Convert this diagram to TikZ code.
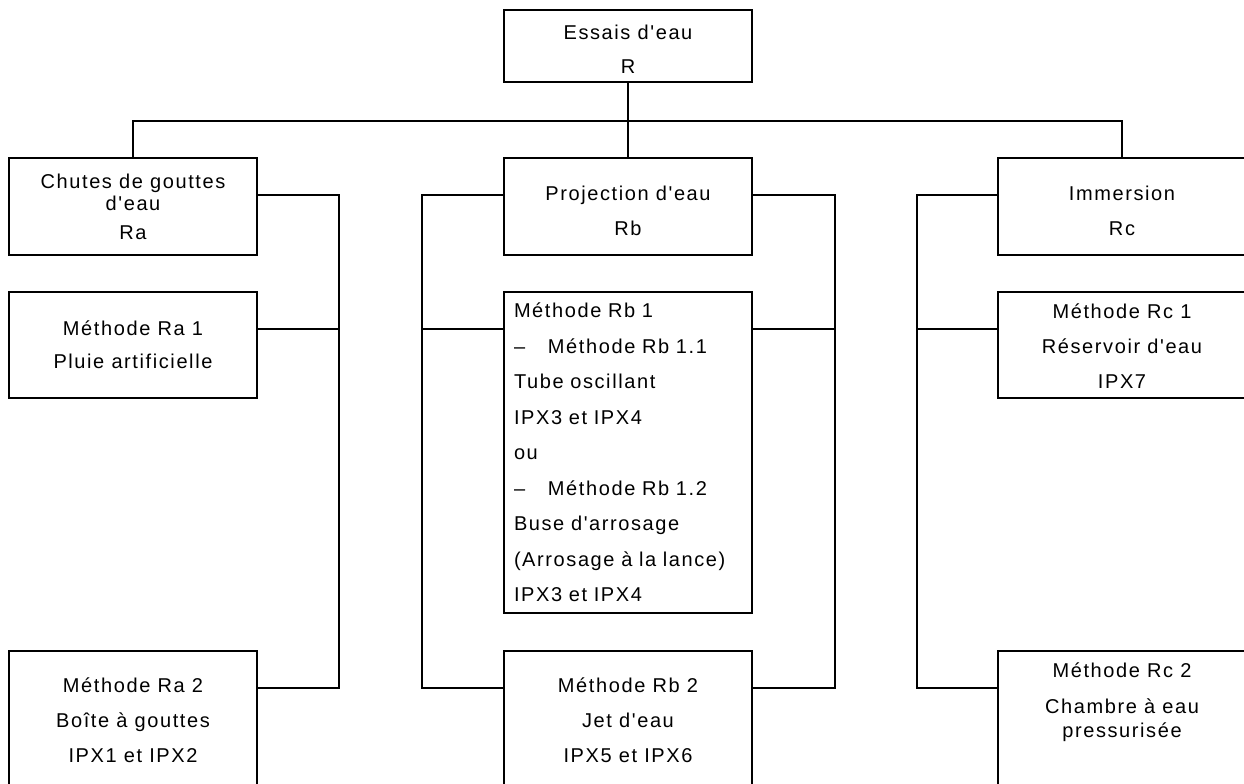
\documentclass[tikz,border=0pt]{standalone}
\usepackage{fontspec}
\setmainfont{Liberation Sans}[Ligatures=TeXOff,LetterSpace=8]
\usepackage{tikz}
\usetikzlibrary{positioning,calc}
\newcommand{\sink}[1]{\rule[-#1]{0pt}{#1}}
\newcommand{\lift}[1]{\rule{0pt}{#1}}
\tikzset{
  box/.style={draw,line width=1pt,outer sep=0pt,inner sep=3pt,minimum width=124pt,align=center,font=\fontsize{10}{17.5}\selectfont},
  openbox/.style={box,anchor=north,minimum height=69.2pt},
  link/.style={line width=1pt}
}
\begin{document}
\begin{tikzpicture}[x=0.5pt,y=-0.5pt]
  \useasboundingbox (0,0) rectangle (1244,783);
  \clip (0,0) rectangle (1244,783);
  \fill[white] (0,0) rectangle (1244,783);

  \node[box,minimum height=36pt] (R) at (628,46) {\lift{10pt}Essais d'eau\\[-0.5pt]R};
  \node[box,minimum height=48.5pt] (Ra) at (133,206.5) {Chutes de gouttes\\[-6.5pt]d'eau\\[-3pt]Ra};
  \node[box,minimum height=48.5pt] (Rb) at (628,206.5) {\lift{12pt}Projection d'eau\\Rb};
  \node[box,minimum height=48.5pt] (Rc) at (1122,206.5) {\lift{12pt}Immersion\\Rc};

  \node[box,minimum height=53pt] (Ra1) at (133,345) {Méthode Ra 1\\[-1pt]Pluie artificielle};
  \node[box,minimum height=160.5pt,text width=114pt,inner xsep=5pt,align=left,font=\fontsize{10}{17.75}\selectfont] (Rb1) at (628,452.5)
    {Méthode Rb 1\\
     \makebox[17pt][l]{–}Méthode Rb 1.1\\
     Tube oscillant\\
     IPX3 et IPX4\\
     ou\\
     \makebox[17pt][l]{–}Méthode Rb 1.2\\
     Buse d'arrosage\\
     (Arrosage à la lance)\\
     IPX3 et IPX4};
  \node[box,minimum height=53pt] (Rc1) at (1122,345) {\lift{8pt}Méthode Rc 1\\Réservoir d'eau\\IPX7};

  \node[openbox] (Ra2) at (133,651) {Méthode Ra 2\\Boîte à gouttes\\IPX1 et IPX2};
  \node[openbox] (Rb2) at (628,651) {Méthode Rb 2\\Jet d'eau\\IPX5 et IPX6};
  \node[openbox] (Rc2) at (1122,651) {Méthode Rc 2\\[0.5pt]Chambre à eau\\[-5.5pt]pressurisée\sink{20pt}};

  \coordinate (bus) at (628,121);
  \draw[link] (R) -- (Rb);
  \draw[link] (Ra.north) |- (bus) -| (Rc.north);

  \foreach \grp/\kida/\kidb/\side/\dx in {Ra/Ra1/Ra2/east/82, Rb/Rb1/Rb2/west/-82, Rb/Rb1/Rb2/east/83, Rc/Rc1/Rc2/west/-81}
  {
    \draw[link] ($(\grp.north \side)+(0,37)$) -| ($(\kidb.north \side)+(\dx,37)$) -- ($(\kidb.north \side)+(0,37)$);
    \draw[link] ($(\kida.north \side)+(0,37)$) -- ++(\dx,0);
  }
\end{tikzpicture}
\end{document}
